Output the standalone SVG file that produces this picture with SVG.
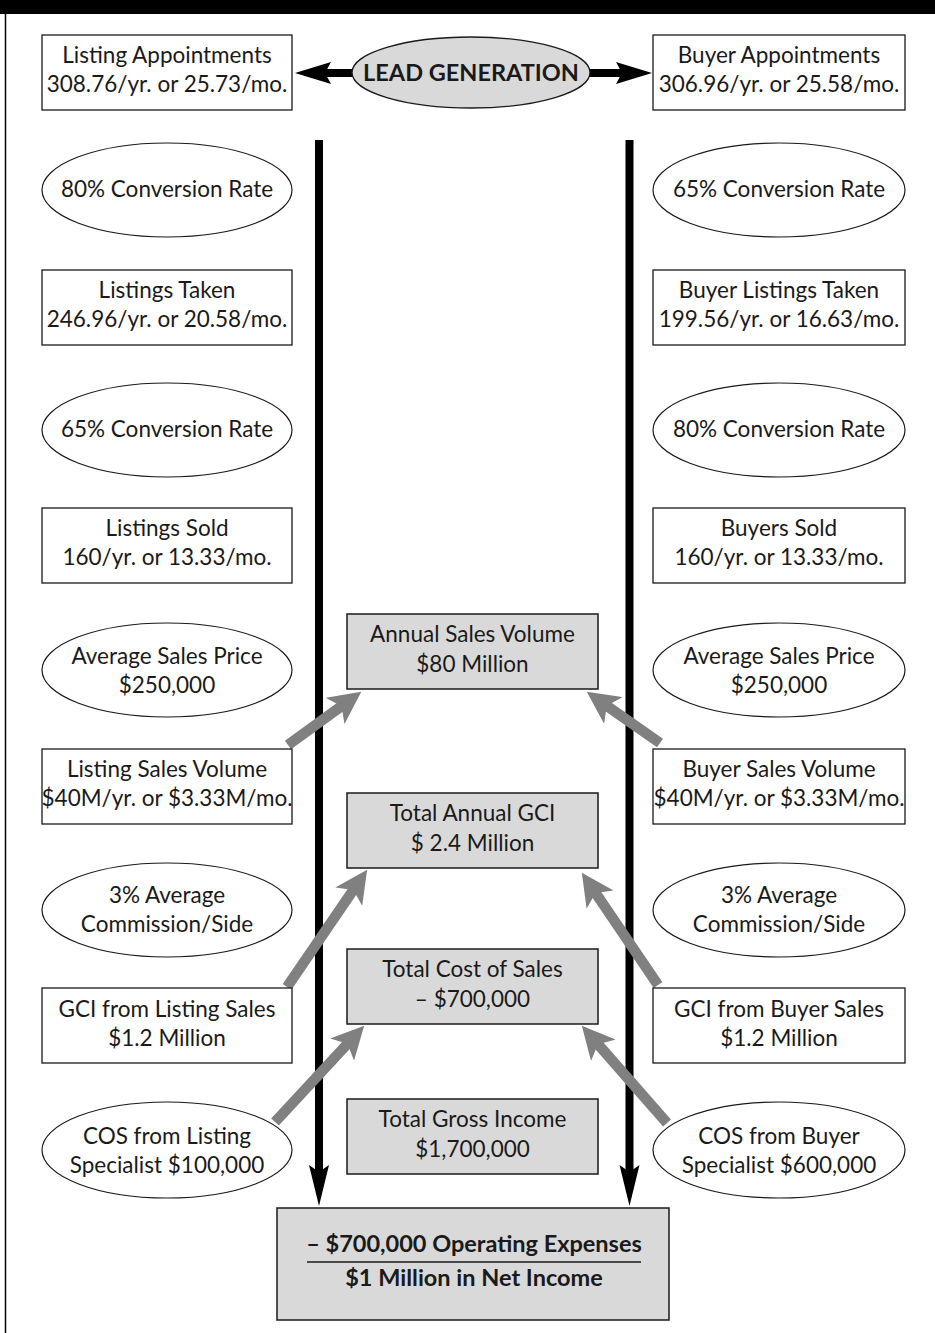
<svg xmlns="http://www.w3.org/2000/svg" width="935" height="1333" viewBox="0 0 935 1333">
<defs>
<style>
.box{fill:#fff;stroke:#1a1a1a;stroke-width:1.3}
.gbox{fill:#d9d9d9;stroke:#1a1a1a;stroke-width:1.5}
.ell{fill:#fff;stroke:#1a1a1a;stroke-width:1.2}
text{font-family:Lato,"Open Sans","Liberation Sans",sans-serif;font-size:22.5px;fill:#1a1a1a;text-anchor:middle}
.b{font-weight:bold}
.garrow{stroke:#808080;stroke-width:10.5;fill:none;marker-end:url(#gh)}
</style>
<marker id="gh" viewBox="0 0 10 10" refX="5.3" refY="5" markerUnits="strokeWidth" markerWidth="3.1" markerHeight="3.1" orient="auto">
<path d="M0,0 L10,5 L0,10 L2.5,5 z" fill="#808080"/>
</marker>
</defs>
<rect x="0" y="0" width="935" height="14" fill="#000"/>
<line x1="5.5" y1="14" x2="5.5" y2="1333" stroke="#000" stroke-width="1.5"/>

<g id="connectors">
<rect x="324" y="69" width="30" height="8" fill="#000"/>
<polygon points="295,73 331,62 325,73 331,84" fill="#000"/>
<rect x="588" y="69" width="34" height="8" fill="#000"/>
<polygon points="652,73 616,62 622,73 616,84" fill="#000"/>
<rect x="315" y="140" width="8" height="1032" fill="#000"/>
<polygon points="319,1206 309,1165 319,1172 329,1165" fill="#000"/>
<rect x="625.5" y="140" width="8" height="1032" fill="#000"/>
<polygon points="629.5,1206 619.5,1165 629.5,1172 639.5,1165" fill="#000"/>
<line class="garrow" x1="288" y1="745" x2="348.9" y2="700.8"/>
<line class="garrow" x1="660" y1="743" x2="599.3" y2="700.6"/>
<line class="garrow" x1="287" y1="987" x2="358.5" y2="882.4"/>
<line class="garrow" x1="658" y1="985" x2="590.4" y2="885.4"/>
<line class="garrow" x1="275" y1="1122" x2="353.8" y2="1037"/>
<line class="garrow" x1="667" y1="1123" x2="591.9" y2="1037.3"/>
</g>

<g id="lead-generation">
<ellipse class="gbox" cx="471" cy="72.5" rx="119" ry="35.5" style="stroke-width:1.3"/>
<text class="b" x="471" y="80.5" style="font-size:23.5px">LEAD GENERATION</text>
</g>

<g id="listing-appointments">
<rect class="box" x="42" y="35" width="250" height="75"/>
<text x="167" y="63">Listing Appointments</text>
<text x="167" y="92">308.76/yr. or 25.73/mo.</text>
</g>
<g id="buyer-appointments">
<rect class="box" x="653" y="35" width="252" height="75"/>
<text x="779" y="63">Buyer Appointments</text>
<text x="779" y="92">306.96/yr. or 25.58/mo.</text>
</g>

<g id="listing-conv-80">
<ellipse class="ell" cx="167" cy="190" rx="125" ry="47"/>
<text x="167" y="197">80% Conversion Rate</text>
</g>
<g id="buyer-conv-65">
<ellipse class="ell" cx="779" cy="190" rx="126" ry="47"/>
<text x="779" y="197">65% Conversion Rate</text>
</g>

<g id="listings-taken">
<rect class="box" x="42" y="270" width="250" height="75"/>
<text x="167" y="298">Listings Taken</text>
<text x="167" y="327">246.96/yr. or 20.58/mo.</text>
</g>
<g id="buyer-listings-taken">
<rect class="box" x="653" y="270" width="252" height="75"/>
<text x="779" y="298">Buyer Listings Taken</text>
<text x="779" y="327">199.56/yr. or 16.63/mo.</text>
</g>

<g id="listing-conv-65">
<ellipse class="ell" cx="167" cy="430" rx="125" ry="47"/>
<text x="167" y="437">65% Conversion Rate</text>
</g>
<g id="buyer-conv-80">
<ellipse class="ell" cx="779" cy="430" rx="126" ry="47"/>
<text x="779" y="437">80% Conversion Rate</text>
</g>

<g id="listings-sold">
<rect class="box" x="42" y="508" width="250" height="75"/>
<text x="167" y="536">Listings Sold</text>
<text x="167" y="565">160/yr. or 13.33/mo.</text>
</g>
<g id="buyers-sold">
<rect class="box" x="653" y="508" width="252" height="75"/>
<text x="779" y="536">Buyers Sold</text>
<text x="779" y="565">160/yr. or 13.33/mo.</text>
</g>

<g id="listing-avg-price">
<ellipse class="ell" cx="167" cy="670" rx="125" ry="47"/>
<text x="167" y="664">Average Sales Price</text>
<text x="167" y="693">$250,000</text>
</g>
<g id="buyer-avg-price">
<ellipse class="ell" cx="779" cy="670" rx="126" ry="47"/>
<text x="779" y="664">Average Sales Price</text>
<text x="779" y="693">$250,000</text>
</g>

<g id="listing-sales-volume">
<rect class="box" x="42" y="749" width="250" height="75"/>
<text x="167" y="777">Listing Sales Volume</text>
<text x="167" y="806">$40M/yr. or $3.33M/mo.</text>
</g>
<g id="buyer-sales-volume">
<rect class="box" x="653" y="749" width="252" height="75"/>
<text x="779" y="777">Buyer Sales Volume</text>
<text x="779" y="806">$40M/yr. or $3.33M/mo.</text>
</g>

<g id="listing-commission">
<ellipse class="ell" cx="167" cy="910" rx="125" ry="47"/>
<text x="167" y="903">3% Average</text>
<text x="167" y="932">Commission/Side</text>
</g>
<g id="buyer-commission">
<ellipse class="ell" cx="779" cy="910" rx="126" ry="47"/>
<text x="779" y="903">3% Average</text>
<text x="779" y="932">Commission/Side</text>
</g>

<g id="gci-listing">
<rect class="box" x="42" y="988" width="250" height="75"/>
<text x="167" y="1017">GCI from Listing Sales</text>
<text x="167" y="1046">$1.2 Million</text>
</g>
<g id="gci-buyer">
<rect class="box" x="653" y="988" width="252" height="75"/>
<text x="779" y="1017">GCI from Buyer Sales</text>
<text x="779" y="1046">$1.2 Million</text>
</g>

<g id="cos-listing">
<ellipse class="ell" cx="167" cy="1150" rx="125" ry="48"/>
<text x="167" y="1144">COS from Listing</text>
<text x="167" y="1173">Specialist $100,000</text>
</g>
<g id="cos-buyer">
<ellipse class="ell" cx="779" cy="1150" rx="126" ry="48"/>
<text x="779" y="1144">COS from Buyer</text>
<text x="779" y="1173">Specialist $600,000</text>
</g>

<g id="annual-sales-volume">
<rect class="gbox" x="347" y="614" width="251" height="75"/>
<text x="472.5" y="642">Annual Sales Volume</text>
<text x="472.5" y="672">$80 Million</text>
</g>
<g id="total-annual-gci">
<rect class="gbox" x="347" y="793" width="251" height="75"/>
<text x="472.5" y="821">Total Annual GCI</text>
<text x="472.5" y="851">$ 2.4 Million</text>
</g>
<g id="total-cost-of-sales">
<rect class="gbox" x="347" y="949" width="251" height="75"/>
<text x="472.5" y="977">Total Cost of Sales</text>
<text x="472.5" y="1007">– $700,000</text>
</g>
<g id="total-gross-income">
<rect class="gbox" x="347" y="1099" width="251" height="75"/>
<text x="472.5" y="1127">Total Gross Income</text>
<text x="472.5" y="1157">$1,700,000</text>
</g>

<g id="net-income">
<rect class="gbox" x="277" y="1208" width="392" height="112"/>
<text class="b" x="474" y="1252" style="font-size:23.5px">– $700,000 Operating Expenses</text>
<line x1="307" y1="1262" x2="641" y2="1262" stroke="#1a1a1a" stroke-width="1.5"/>
<text class="b" x="474" y="1286" style="font-size:23.5px">$1 Million in Net Income</text>
</g>
</svg>
